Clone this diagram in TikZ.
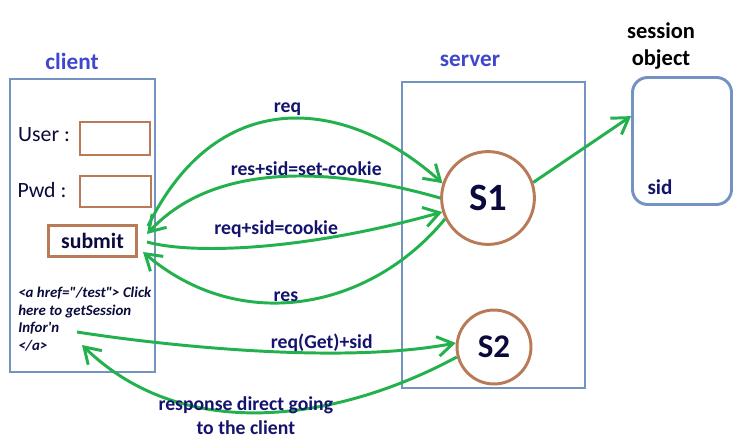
\documentclass[tikz,border=0pt]{standalone}
\usepackage{fontspec}
\setmainfont{Carlito}
\usetikzlibrary{arrows.meta}

\definecolor{boxblue}{RGB}{115,147,193}
\definecolor{boxbrown}{RGB}{185,122,87}
\definecolor{flowgreen}{RGB}{34,177,76}
\definecolor{labelnavy}{RGB}{20,20,110}
\definecolor{titleblue}{RGB}{63,72,204}
\definecolor{darkink}{RGB}{10,10,60}

\begin{document}
\begin{tikzpicture}[x=0.025cm, y=-0.025cm,
    frame/.style={draw=boxblue, line width=2.1pt},
    field/.style={draw=boxbrown, line width=2.1pt},
    sessnode/.style={circle, draw=boxbrown, line width=2.1pt, text=darkink, inner sep=0pt},
    flow/.style={draw=flowgreen, line width=2.1pt, -{Straight Barb[length=11pt, width=14pt]}},
    lbl/.style={text=labelnavy, font=\fontsize{14}{17}\selectfont\bfseries},
    title/.style={text=titleblue, font=\fontsize{16.5}{20}\selectfont\bfseries}]
    \useasboundingbox (0,0) rectangle (740,446);

    % Client page
    \draw[frame] (10,79) rectangle (155,372);
    \node[title] (clientlbl) at (72,61) {client};
    \node[text=darkink, font=\fontsize{15.5}{18}\selectfont] (userlbl) at (44,135) {User :};
    \node[text=darkink, font=\fontsize{15.5}{18}\selectfont] (pwdlbl) at (42,190) {Pwd :};
    \draw[field] (80,122) rectangle (150,155); % user field
    \draw[field] (80,176) rectangle (151,207); % pwd field
    \node[field, text=darkink, font=\fontsize{15.5}{18}\selectfont\bfseries,
          minimum width=62.6pt, minimum height=22pt] (submit) at (92.5,241) {submit};
    \node[anchor=north west, align=left, text=darkink, inner sep=0pt,
          font=\fontsize{10.6}{12.4}\selectfont\bfseries\itshape] (link) at (18,287)
          {<a href=\textquotedbl/test\textquotedbl> Click\\here to getSession\\Infor\textquotesingle n\\</a>};

    % Server side
    \draw[frame] (402,82) rectangle (585,388);
    \node[title] (serverlbl) at (470,61) {server};
    \node[sessnode, minimum size=66pt, font=\fontsize{27.5}{30}\selectfont\bfseries] (S1) at (488,198) {S1};
    \node[sessnode, minimum size=52.6pt, font=\fontsize{23.5}{26}\selectfont\bfseries] (S2) at (494,347) {S2};

    % Session object
    \node[align=center, font=\fontsize{16}{19}\selectfont\bfseries] (sesslbl) at (661,46) {session\\object};
    \node[frame, rounded corners=10.7pt, minimum width=70.4pt, minimum height=90.3pt] (sessobj) at (682,141) {};
    \node[text=labelnavy, font=\fontsize{15}{18}\selectfont\bfseries] (sid) at (660,187) {sid};

    % Connector ends on the client side
    \coordinate (reqout)  at (148,226);
    \coordinate (setin)   at (147,234);
    \coordinate (cookout) at (147,242);
    \coordinate (resin)   at (143,252);
    \coordinate (getout)  at (77,332);
    \coordinate (dirin)   at (82,345);

    % Request / response flows
    \draw[flow] (reqout) .. controls (220,80) and (350,100) .. (S1.162)
        node[lbl, pos=0.5, above=-2pt] (reqlbl) {req};
    \draw[flow] (S1.west) .. controls (350,172) and (220,155) .. (setin)
        node[lbl, pos=0.44, above=-4pt] (setlbl) {res+sid=set-cookie};
    \draw[flow] (cookout) .. controls (190,254) and (300,252) .. (S1.197)
        node[lbl, pos=0.56, above=1pt] (cooklbl) {req+sid=cookie};
    \draw[flow] (S1.206) .. controls (370,310) and (240,335) .. (resin)
        node[lbl, pos=0.55, above=-4pt] (reslbl) {res};
    \draw[flow] (getout) .. controls (160,345) and (340,365) .. (S2.174)
        node[lbl, pos=0.66, above=-3.5pt] (getlbl) {req(Get)+sid};
    \draw[flow] (S2.195) .. controls (350,415) and (190,450) .. (dirin)
        node[lbl, pos=0.56, align=center, yshift=-2.5pt] (dirlbl) {response direct going\\to the client};
    \draw[flow] (S1.19) -- (sessobj.154);
\end{tikzpicture}
\end{document}
